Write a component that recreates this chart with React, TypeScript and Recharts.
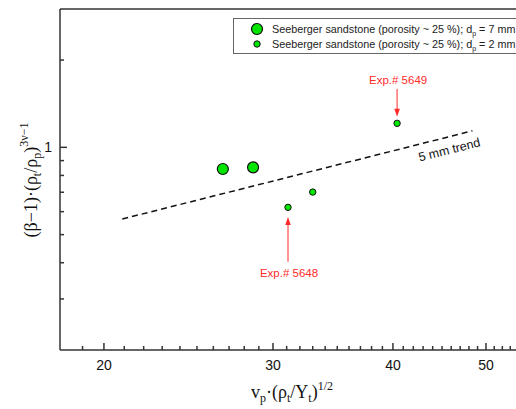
import React from "react";
import {
  ScatterChart,
  Scatter,
  XAxis,
  YAxis,
  ReferenceLine,
  Legend,
} from "recharts";

// 7 mm projectiles
const bigX = [26.6, 28.6];
const bigY = [0.842, 0.853];
// 2 mm projectiles
const smallX = [31.1, 33.0, 40.4];
const smallY = [0.621, 0.701, 1.21];
// 5 mm trend line ends
const trendX = [20.9, 48.4];
const trendY = [0.566, 1.14];
// annotations (arrow tail -> tip)
const annText = ["Exp.# 5649", "Exp.# 5648"];
const annX = [40.4, 31.1];
const annTail = [1.59, 0.403];
const annTip = [1.275, 0.575];

const xTicks = [
  19, 20, 21, 22, 23, 24, 25, 26, 27, 28, 29, 30, 31, 32, 33, 34, 35, 36, 37,
  38, 39, 40, 41, 42, 43, 44, 45, 46, 47, 48, 49, 50, 51, 52, 53, 54, 55, 56,
  57, 58, 59,
];
const xMajor = [20, 30, 40, 50];
const yTicks = [0.3, 0.4, 0.5, 0.6, 0.7, 0.8, 0.9, 1, 2];
const yMajor = [1];

const legendLabels = [
  "Seeberger sandstone (porosity ~ 25 %); d",
  "Seeberger sandstone (porosity ~ 25 %); d",
];
const legendSizes = ["7 mm", "2 mm"];

const bigData = bigX.map((x, i) => ({ x, y: bigY[i] }));
const smallData = smallX.map((x, i) => ({ x, y: smallY[i] }));

const GREEN = "#00e600";
const RED = "#ff2b2b";
const AXIS = "#333";
const SANS = "'Liberation Sans', Arial, sans-serif";
const SERIF = "'Liberation Serif', 'Times New Roman', serif";

const XTick = (props: any) => {
  const { x, y, payload } = props;
  const major = xMajor.includes(payload.value);
  return (
    <g>
      <line x1={x} x2={x} y1={y} y2={y - (major ? 7 : 4)} stroke={AXIS} strokeWidth={1.5} />
      {major && (
        <text x={x} y={y + 20} textAnchor="middle" fontSize={14} fontFamily={SANS} fill="#111">
          {payload.value}
        </text>
      )}
    </g>
  );
};

const YTick = (props: any) => {
  const { x, y, payload } = props;
  const major = yMajor.includes(payload.value);
  return (
    <g>
      <line x1={x} x2={x + (major ? 7 : 4)} y1={y} y2={y} stroke={AXIS} strokeWidth={1.5} />
      {major && (
        <text x={x - 8} y={y + 5} textAnchor="end" fontSize={14} fontFamily={SANS} fill="#111">
          {payload.value}
        </text>
      )}
    </g>
  );
};

const bigDot = (p: any) => (
  <circle cx={p.cx} cy={p.cy} r={5.5} fill={GREEN} stroke="#111" strokeWidth={1.2} />
);
const smallDot = (p: any) => (
  <circle cx={p.cx} cy={p.cy} r={3.2} fill={GREEN} stroke="#111" strokeWidth={1} />
);

const trendShape = (p: any) => {
  const ang = (Math.atan2(p.y2 - p.y1, p.x2 - p.x1) * 180) / Math.PI;
  const tx = p.x2 - 22;
  const ty = p.y2 + 23;
  return (
    <g>
      <line x1={p.x1} y1={p.y1} x2={p.x2} y2={p.y2} stroke="#111" strokeWidth={1.5} strokeDasharray="6 4" />
      <text x={tx} y={ty} transform={`rotate(${ang} ${tx} ${ty})`} textAnchor="middle" fontSize={12.5} fontFamily={SANS} fill="#111">
        5 mm trend
      </text>
    </g>
  );
};

const arrowShape = (label: string) => (p: any) => {
  const up = p.y2 < p.y1;
  const head = up ? -1 : 1;
  const ty = up ? p.y1 + 15 : p.y1 - 5;
  return (
    <g>
      <line x1={p.x1} y1={p.y1} x2={p.x2} y2={p.y2 - head * 6} stroke={RED} strokeWidth={1} />
      <path
        d={`M${p.x2},${p.y2} L${p.x2 - 2.8},${p.y2 - head * 8} L${p.x2 + 2.8},${p.y2 - head * 8} Z`}
        fill={RED}
      />
      <text x={p.x1 + 1} y={ty} textAnchor="middle" fontSize={11.5} fontFamily={SANS} fill={RED}>
        {label}
      </text>
    </g>
  );
};

const LegendBox = () => (
  <svg width={300} height={36} style={{ display: "block" }}>
    <rect x={0.5} y={0.5} width={299} height={35} fill="#fff" stroke="#666" strokeWidth={1} />
    {legendLabels.map((t, i) => (
      <g key={i}>
        <circle cx={24} cy={11 + i * 15} r={i === 0 ? 5.5 : 3.2} fill={GREEN} stroke="#111" strokeWidth={i === 0 ? 1.2 : 1} />
        <text x={39} y={15 + i * 15} fontSize={10.8} fontFamily={SANS} fill="#222">
          {t}
          <tspan fontSize={7} dy={2.5}>p</tspan>
          <tspan dy={-2.5}>{" = " + legendSizes[i]}</tspan>
        </text>
      </g>
    ))}
  </svg>
);

const YLabel = () => (
  <text x={37} y={180} transform="rotate(-90 37 180)" textAnchor="middle" fontSize={18} fontFamily={SERIF} fill="#111">
    (β−1)·(ρ
    <tspan fontSize={12} dy={4}>t</tspan>
    <tspan dy={-4}>/ρ</tspan>
    <tspan fontSize={12} dy={4}>p</tspan>
    <tspan dy={-4}>)</tspan>
    <tspan fontSize={12} dy={-9}>3ν−1</tspan>
  </text>
);

const XLabel = () => (
  <text x={292} y={398} textAnchor="middle" fontSize={18} fontFamily={SERIF} fill="#111">
    v
    <tspan fontSize={12} dy={4}>p</tspan>
    <tspan dy={-4}>·(ρ</tspan>
    <tspan fontSize={12} dy={4}>t</tspan>
    <tspan dy={-4}>/Y</tspan>
    <tspan fontSize={12} dy={4}>t</tspan>
    <tspan dy={-4}>)</tspan>
    <tspan fontSize={12} dy={-8}>1/2</tspan>
  </text>
);

export default function App() {
  return (
    <div
      style={{
        position: "absolute",
        left: 0,
        top: 0,
        width: 516,
        height: 409,
        overflow: "hidden",
        background: "#fff",
      }}
    >
      <ScatterChart width={580} height={409} margin={{ top: 9, right: 18, bottom: 0, left: 0 }}>
        <XAxis
          dataKey="x"
          type="number"
          scale="log"
          domain={[18, 60]}
          allowDataOverflow
          ticks={xTicks}
          interval={0}
          tick={<XTick />}
          tickLine={false}
          tickSize={0}
          tickMargin={0}
          height={59}
          axisLine={{ stroke: AXIS, strokeWidth: 1.5 }}
          label={<XLabel />}
        />
        <YAxis
          dataKey="y"
          type="number"
          scale="log"
          domain={[0.2, 3]}
          allowDataOverflow
          ticks={yTicks}
          interval={0}
          tick={<YTick />}
          tickLine={false}
          tickSize={0}
          tickMargin={0}
          width={60}
          axisLine={{ stroke: AXIS, strokeWidth: 1.5 }}
          label={<YLabel />}
        />
        <ReferenceLine y={3} stroke={AXIS} strokeWidth={1.5} />
        <ReferenceLine
          segment={[
            { x: trendX[0], y: trendY[0] },
            { x: trendX[1], y: trendY[1] },
          ]}
          shape={trendShape}
        />
        {annText.map((t, i) => (
          <ReferenceLine
            key={t}
            segment={[
              { x: annX[i], y: annTail[i] },
              { x: annX[i], y: annTip[i] },
            ]}
            shape={arrowShape(t)}
          />
        ))}
        <Scatter data={bigData} shape={bigDot} isAnimationActive={false} />
        <Scatter data={smallData} shape={smallDot} isAnimationActive={false} />
        <Legend
          layout="horizontal"
          verticalAlign="middle"
          align="center"
          content={() => <LegendBox />}
          wrapperStyle={{ left: 233, top: 18, width: 300, height: 36 }}
        />
      </ScatterChart>
    </div>
  );
}
